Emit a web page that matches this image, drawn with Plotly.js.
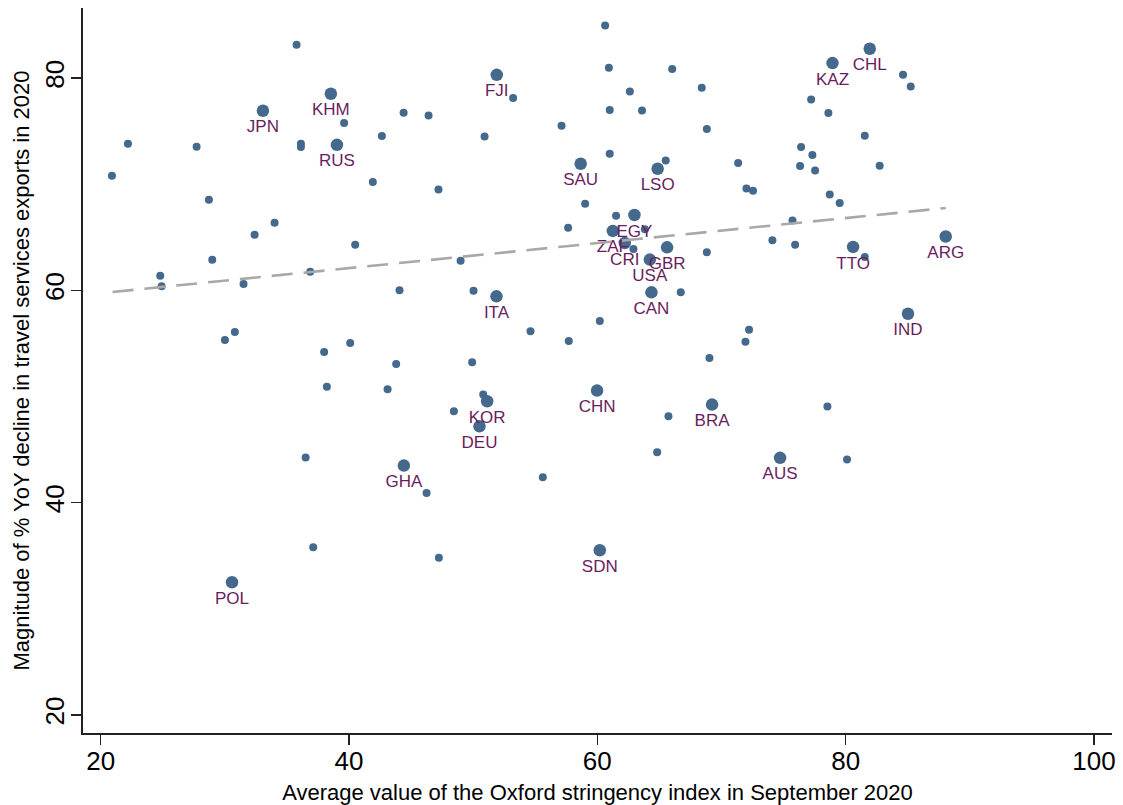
<!DOCTYPE html>
<html>
<head>
<meta charset="utf-8">
<script src="https://cdn.plot.ly/plotly-3.0.1.min.js"></script>
<style>html,body{margin:0;padding:0;background:#fff;}#chart{width:1123px;height:805px;}</style>
</head>
<body>
<div id="chart"></div>
<script>
// Unlabelled countries (stringency index, % YoY decline)
const smallX = [35.78,39.61,22.2,27.73,36.13,36.13,42.65,20.91,41.92,28.72,34.01,32.4,40.5,28.99,24.8,36.88,24.91,31.51,44.07,30.01,30.81,38.0,40.1,43.8,38.22,43.11,36.51,37.12,46.25,47.24,50.81,48.45,55.61,65.73,64.82,72.22,71.93,78.53,80.11,60.63,60.93,66.03,68.41,62.62,53.22,61.0,63.6,44.4,46.41,57.12,50.92,68.82,61.0,65.51,71.34,47.21,59.02,72.01,72.54,57.65,61.51,74.1,48.99,63.83,62.91,68.82,50.03,66.72,54.62,60.2,57.7,49.92,69.03,84.62,85.24,77.22,78.61,81.54,76.41,77.32,76.33,77.54,82.74,78.72,79.52,75.72,75.93,81.54];
const smallY = [83.13,75.76,73.81,73.53,73.8,73.5,74.54,70.8,70.2,68.54,66.38,65.25,64.3,62.89,61.38,61.76,60.38,60.6,60.0,55.33,56.08,54.2,55.05,53.07,50.93,50.68,44.25,35.8,40.92,34.8,50.18,48.61,42.39,48.14,44.75,56.3,55.17,49.05,44.06,84.95,80.97,80.85,79.09,78.74,78.12,76.99,76.95,76.73,76.48,75.51,74.5,75.2,72.87,72.24,71.99,69.51,68.16,69.6,69.39,65.9,67.03,64.71,62.8,65.76,63.9,63.58,59.97,59.81,56.14,57.12,55.24,53.22,53.63,80.31,79.21,77.99,76.7,74.57,73.5,72.75,71.71,71.3,71.74,69.04,68.23,66.59,64.3,63.14];

// Labelled countries
const labCodes = ["JPN","KHM","RUS","FJI","SAU","LSO","EGY","ZAF","CRI","GBR","USA","CAN","ITA","TTO","ARG","KAZ","CHL","IND","AUS","KOR","DEU","CHN","BRA","GHA","SDN","POL"];
const labX = [33.07,38.54,39.03,51.9,58.66,64.86,62.99,61.25,62.21,65.62,64.23,64.36,51.88,80.6,88.06,78.94,81.94,85.02,74.72,51.13,50.51,59.98,69.24,44.42,60.2,30.58];
const labY = [76.92,78.52,73.71,80.3,71.93,71.46,67.1,65.6,64.46,64.05,62.9,59.81,59.44,64.09,65.07,81.41,82.76,57.8,44.22,49.55,47.19,50.56,49.24,43.49,35.52,32.5];

// Fitted line end points
const fitX = [20.96, 88.06];
const fitY = [59.85, 67.76];

// Axis ticks
const xTicks = [20,40,60,80,100];
const yTicks = [20,40,60,80];

const xTitle = "Average value of the Oxford stringency index in September 2020";
const yTitle = "Magnitude of % YoY decline in travel services exports in 2020";

const dotColor = "#44698c";
const labColor = "#6a1d5e";
const font = "Liberation Sans, Arial, Helvetica, sans-serif";

const traces = [
  {x: smallX, y: smallY, type: "scatter", mode: "markers",
   marker: {size: 8, color: dotColor}, hoverinfo: "skip", cliponaxis: false},
  {x: labX, y: labY, text: labCodes, type: "scatter", mode: "markers+text",
   textposition: "bottom center",
   textfont: {family: font, size: 17, color: labColor},
   marker: {size: 12.5, color: dotColor}, hoverinfo: "skip", cliponaxis: false},
  {x: fitX, y: fitY, type: "scatter", mode: "lines",
   line: {color: "#a8a8a8", width: 2.6, dash: "21px,11px"}, hoverinfo: "skip"}
];

const layout = {
  width: 1123, height: 805,
  margin: {l: 83, r: 11, t: 8, b: 72},
  paper_bgcolor: "#fff", plot_bgcolor: "#fff",
  showlegend: false,
  font: {family: font, color: "#000"},
  xaxis: {
    range: [18.58, 101.45], tickvals: xTicks, ticktext: xTicks.map(String),
    showgrid: false, zeroline: false, showline: true, linecolor: "#222", linewidth: 1.6,
    ticks: "outside", ticklen: 10, tickwidth: 1.6, tickcolor: "#222",
    tickfont: {family: font, size: 26, color: "#000"}, ticklabelstandoff: -6,
    title: {text: xTitle, font: {family: font, size: 22, color: "#000"}, standoff: 10},
    automargin: false
  },
  yaxis: {
    range: [18.3, 86.6], tickvals: yTicks, ticktext: yTicks.map(String),
    showgrid: false, zeroline: false, showline: true, linecolor: "#222", linewidth: 1.6,
    ticks: "outside", ticklen: 10, tickwidth: 1.6, tickcolor: "#222",
    tickangle: -90,
    tickfont: {family: font, size: 26, color: "#000"}, ticklabelstandoff: -3,
    title: {text: yTitle, font: {family: font, size: 22, color: "#000"}, standoff: 4},
    automargin: false
  }
};

Plotly.newPlot("chart", traces, layout, {displayModeBar: false, staticPlot: true});
</script>
</body>
</html>
